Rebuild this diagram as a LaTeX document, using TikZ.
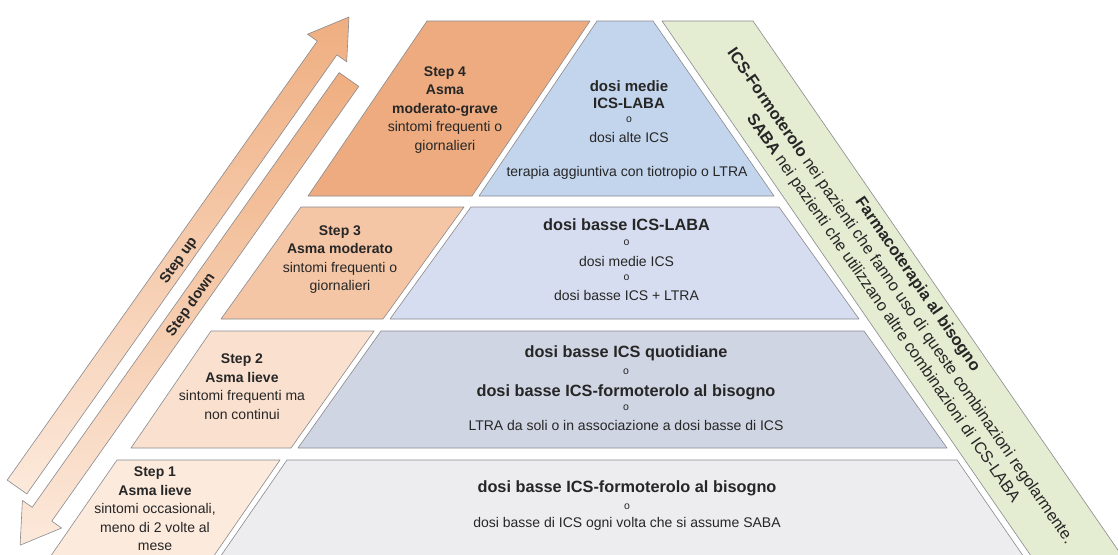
\documentclass[tikz,border=0pt]{standalone}
\usepackage{fontspec}
\setmainfont{Liberation Sans}
\definecolor{o4}{HTML}{EDAB7F}
\definecolor{o3}{HTML}{F4C6A6}
\definecolor{o2}{HTML}{FAE1CF}
\definecolor{o1}{HTML}{FCEADD}
\definecolor{b4}{HTML}{C3D5EC}
\definecolor{b3}{HTML}{D7DDF0}
\definecolor{b2}{HTML}{D0D5E3}
\definecolor{b1}{HTML}{EDEDEF}
\definecolor{gband}{HTML}{E4ECD2}
\definecolor{edge}{HTML}{8A8A8E}
\definecolor{txt}{HTML}{262626}
\definecolor{arrtop}{HTML}{EFAE80}
\definecolor{arrbot}{HTML}{FCE9DB}
\begin{document}
\begin{tikzpicture}[x=1pt,y=-1pt,
  blk/.style={draw=edge,line width=0.6pt,line join=round},
  lbl/.style={inner sep=0pt,text=txt,align=center},
  fb/.style={font=\bfseries\fontsize{16.3}{20}\selectfont},
  fb4/.style={font=\bfseries\fontsize{15}{18}\selectfont},
  fr/.style={font=\fontsize{14}{18}\selectfont},
  fo/.style={font=\fontsize{10.5}{12}\selectfont},
  fs/.style={font=\fontsize{14}{18.5}\selectfont},
  fband/.style={font=\fontsize{16.3}{21}\selectfont},
  farr/.style={font=\bfseries\fontsize{14.5}{16}\selectfont},
]
\useasboundingbox (0,0) rectangle (1118,554);
\clip (0,0) rectangle (1118,554);
\fill[white] (0,0) rectangle (1118,554);

% arrows
\path[blk,top color=arrtop,bottom color=arrbot]
  (7.2,480.1) -- (317.3,41.1) -- (307.5,34.2) -- (349,17) -- (346.7,61.8) -- (336.9,54.9) -- (26.8,493.9) -- cycle;
\path[blk,top color=arrtop,bottom color=arrbot]
  (339.2,72.6) -- (32.2,507.3) -- (22.4,500.4) -- (20.1,545.2) -- (61.6,528.0) -- (51.8,521.1) -- (358.8,86.4) -- cycle;
\node[lbl,farr,rotate=54.8] (up) at (179,261) {Step up};
\node[lbl,farr,rotate=54.8] (down) at (191,305) {Step down};

% step boxes (orange)
\path[blk,fill=o4] (427,21) -- (590,21) -- (472,196) -- (308,196) -- cycle;
\path[blk,fill=o3] (301,207) -- (464,207) -- (383,319) -- (221,319) -- cycle;
\path[blk,fill=o2] (211,331) -- (374,331) -- (291,448) -- (131,448) -- cycle;
\path[blk,fill=o1] (117,460) -- (280,460) -- (211,560) -- (48,560) -- cycle;

% pyramid rows
\path[blk,fill=b4] (597,21) -- (653,21) -- (774,196) -- (479,196) -- cycle;
\path[blk,fill=b3] (471,207) -- (779,207) -- (859,319) -- (390,319) -- cycle;
\path[blk,fill=b2] (381,331) -- (864,331) -- (947,448) -- (298,448) -- cycle;
\path[blk,fill=b1] (287,460) -- (957,460) -- (1026,560) -- (218,560) -- cycle;

% green band
\path[blk,fill=gband] (662,21) -- (753,21) -- (1140,582) -- (1049,582) -- cycle;

% step texts
\node[lbl,fs] (s4) at (445,110) {\textbf{Step 4}\\\textbf{Asma}\\\textbf{moderato-grave}\\sintomi frequenti o\\giornalieri};
\node[lbl,fs] (s3) at (340,259.5) {\textbf{Step 3}\\\textbf{Asma moderato}\\sintomi frequenti o\\giornalieri};
\node[lbl,fs] (s2) at (242,386.5) {\textbf{Step 2}\\\textbf{Asma lieve}\\sintomi frequenti ma\\non continui};
\node[lbl,fs] (s1) at (155,509) {\textbf{Step 1}\\\textbf{Asma lieve}\\sintomi occasionali,\\meno di 2 volte al\\mese};

% row 4
\node[lbl,fb4] (r4a) at (629,86) {dosi medie};
\node[lbl,fb4] (r4b) at (629,103) {ICS-LABA};
\node[lbl,fo] (r4c) at (629,120) {o};
\node[lbl,fr] (r4d) at (629,137) {dosi alte ICS};
\node[lbl,fr] (r4e) at (627,173) {terapia aggiuntiva con tiotropio o LTRA};

% row 3
\node[lbl,fb] (r3a) at (626.5,225) {dosi basse ICS-LABA};
\node[lbl,fo] (r3b) at (626.5,243) {o};
\node[lbl,fr] (r3c) at (626.5,261) {dosi medie ICS};
\node[lbl,fo] (r3d) at (626.5,278) {o};
\node[lbl,fr] (r3e) at (626.5,295) {dosi basse ICS + LTRA};

% row 2
\node[lbl,fb] (r2a) at (626,353) {dosi basse ICS quotidiane};
\node[lbl,fo] (r2b) at (626,372) {o};
\node[lbl,fb] (r2c) at (626,392) {dosi basse ICS-formoterolo al bisogno};
\node[lbl,fo] (r2d) at (626,408) {o};
\node[lbl,fr] (r2e) at (626,425) {LTRA da soli o in associazione a dosi basse di ICS};

% row 1
\node[lbl,fb] (r1a) at (627,488) {dosi basse ICS-formoterolo al bisogno};
\node[lbl,fo] (r1b) at (627,507) {o};
\node[lbl,fr] (r1c) at (627,524) {dosi basse di ICS ogni volta che si assume SABA};

% band text
\node[lbl,fband,rotate=-55.4] (band) at (900,296.5)
  {\textbf{Farmacoterapia al bisogno}\\\textbf{ICS-Formoterolo} nei pazienti che fanno uso di queste combinazioni regolarmente.\\\textbf{SABA} nei pazienti che utilizzano altre combinazioni di ICS-LABA};
\end{tikzpicture}
\end{document}
